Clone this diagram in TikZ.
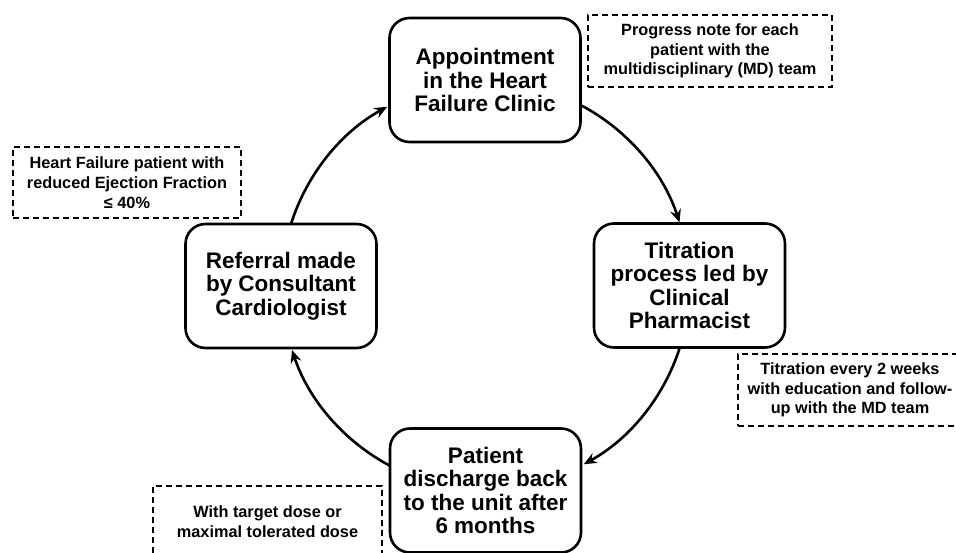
\documentclass[tikz,border=0pt]{standalone}
\usepackage{fontspec}
\setmainfont{Liberation Sans}
\usetikzlibrary{arrows.meta}
\tikzset{
  stepbox/.style={draw=black, line width=2.6pt, rounded corners=20pt,
    minimum width=191pt, minimum height=124pt, align=center, inner sep=0pt,
    font=\fontsize{22.5}{23.5}\selectfont\bfseries},
  notebox/.style={draw=black, line width=1.3pt, dash pattern=on 6pt off 4pt,
    align=center, inner sep=0pt, font=\fontsize{16.3}{19.7}\selectfont\bfseries},
  flow/.style={line width=2.6pt, -{Stealth[length=13pt, width=11pt, inset=4.5pt]}}
}
\begin{document}
\begin{tikzpicture}[x=1pt,y=1pt]
\useasboundingbox[fill=white] (0,0) rectangle (956,552);
% main steps
\node[stepbox] (top) at (485,472) {Appointment\\in the Heart\\Failure Clinic};
\node[stepbox] (right) at (689.5,266.5) {Titration\\process led by\\Clinical\\Pharmacist};
\node[stepbox] (bottom) at (485.5,61.5) {Patient\\discharge back\\to the unit after\\6 months};
\node[stepbox] (left) at (281,266) {Referral made\\by Consultant\\Cardiologist};
% notes
\node[notebox, minimum width=244pt, minimum height=72pt] (ntop) at (710,501)
  {Progress note for each\\patient with the\\multidisciplinary (MD) team};
\node[notebox, minimum width=228pt, minimum height=71pt] (nleft) at (127,369.5)
  {Heart Failure patient with\\reduced Ejection Fraction\\≤ 40\%};
\node[notebox, minimum width=224pt, minimum height=72pt] (nright) at (850,162)
  {Titration every 2 weeks\\with education and follow-\\up with the MD team};
\node[notebox, minimum width=229pt, minimum height=71pt] (nbottom) at (267.5,30.5)
  {With target dose or\\maximal tolerated dose};
% cycle
\coordinate (ctr) at (485.5,266.5);
\draw[flow] ([shift={(61.8:204)}]ctr) arc[start angle=61.8, end angle=18, radius=204];
\draw[flow] ([shift={(-17.8:204)}]ctr) arc[start angle=-17.8, end angle=-61.2, radius=204];
\draw[flow] ([shift={(-118:204)}]ctr) arc[start angle=-118, end angle=-161.6, radius=204];
\draw[flow] ([shift={(162.6:204)}]ctr) arc[start angle=162.6, end angle=118.8, radius=204];
\end{tikzpicture}
\end{document}
